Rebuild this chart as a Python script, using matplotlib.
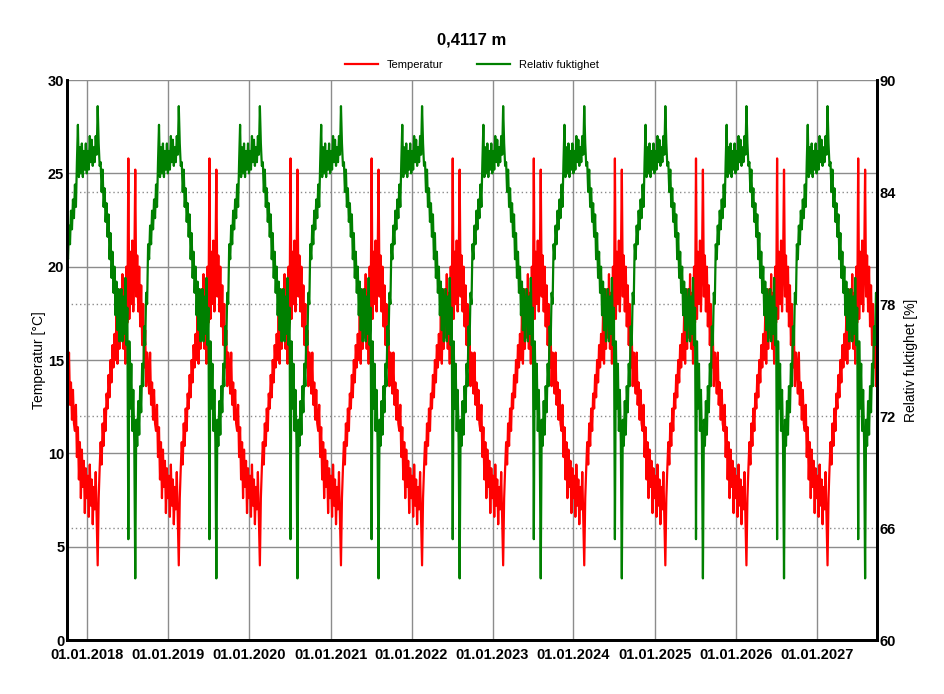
import matplotlib.pyplot as plt
import matplotlib.dates as mdates
import numpy as np
import pandas as pd

# one simulated year (1 Oct -> 30 Sep); the climate year repeats
temp_year = [14.6, 13.2, 15.4, 12.6, 13.8, 11.8, 13.4, 11.6,      # Oct
             11.2, 12.6, 9.8, 11.4, 8.6, 10.6,                    # Nov
             7.6, 10.2, 8.2, 9.6, 6.8, 9.2, 7.6,                  # Dec
             8.8, 6.6, 9.4, 7.2, 8.6, 6.2, 8.2,                   # Jan
             7.0, 9.0, 6.4, 4.0, 7.6, 9.2,                        # Feb
             10.6, 9.4, 11.6, 10.4, 12.4, 11.2, 13.2,             # Mar
             12.4, 14.2, 13.0, 15.0, 13.8, 15.8, 14.6,            # Apr
             16.4, 15.0, 17.4, 14.8, 17.8, 15.6, 18.8,            # May
             16.2, 19.6, 15.6, 18.6, 14.8, 20.0, 17.0,            # Jun
             25.8, 17.2, 20.8, 18.0, 21.4, 17.6, 19.8,            # Jul
             25.2, 18.4, 20.6, 17.6, 20.0, 16.8, 19.0,            # Aug
             15.8, 18.0, 14.6, 16.6, 13.6, 15.4]                  # Sep
rh_year = [81.2, 80.4, 82.2, 81.2, 83.0, 82.0, 83.6, 82.6,
           84.4, 83.2, 85.6, 87.6, 84.8, 86.4,
           85.0, 86.6, 84.8, 86.2, 85.2, 86.6, 85.0,
           86.2, 85.2, 87.0, 85.6, 86.8, 85.4, 86.4,
           85.6, 87.0, 86.0, 88.6, 86.6, 85.4,
           85.6, 84.0, 85.2, 83.2, 84.2, 82.4, 83.4,
           81.6, 82.8, 80.4, 81.8, 79.4, 80.8, 78.6,
           80.0, 77.4, 79.2, 76.6, 78.8, 76.0, 78.0,
           78.8, 76.0, 78.4, 76.4, 79.4, 75.8, 77.8,
           65.4, 76.0, 72.4, 74.8, 71.2, 73.4, 70.6,
           63.3, 71.8, 70.4, 72.8, 71.0, 73.6, 72.2,
           74.8, 73.6, 76.8, 75.8, 78.6, 78.0]
n_years = 10

temp = np.tile(temp_year, n_years)
rh = np.tile(rh_year, n_years)
dates = pd.date_range('2017-10-01', '2027-09-30', periods=len(temp))

plt.rcParams['font.family'] = ['Liberation Sans', 'DejaVu Sans']

fig = plt.figure(figsize=(9.44, 6.94), dpi=100)
ax = fig.add_axes([0.071, 0.0778, 0.858, 0.8069])
ax2 = ax.twinx()

l1, = ax.plot(dates, temp, color='#ff0000', lw=1.6, label='Temperatur')
l2, = ax2.plot(dates, rh, color='#008000', lw=1.6, label='Relativ fuktighet')

ax.set_xlim(dates[0], dates[-1])
ax.set_ylim(0, 30)
ax2.set_ylim(60, 90)
ax.set_yticks(np.arange(0, 31, 5))
ax.set_yticks([6, 12, 18, 24], minor=True)
ax2.set_yticks(np.arange(60, 91, 6))

ax.xaxis.set_major_locator(mdates.YearLocator(month=1, day=1))
ax.xaxis.set_major_formatter(mdates.DateFormatter('%d.%m.%Y'))

ax.set_axisbelow(True)
ax.grid(True, which='major', color='#8c8c8c', lw=1, ls='-')
ax.grid(True, which='minor', axis='y', color='#8c8c8c', lw=1, ls=(0, (1, 2)))

for a in (ax, ax2):
    for s in ('left', 'right', 'bottom'):
        a.spines[s].set_linewidth(2)
    a.spines['top'].set_visible(False)
    a.tick_params(which='both', length=0, labelsize=10.5, pad=2)
    for lab in a.get_xticklabels() + a.get_yticklabels():
        lab.set_fontweight('bold')
ax.tick_params(axis='x', pad=6)

ax.set_ylabel('Temperatur [°C]', fontsize=10, labelpad=1)
ax2.set_ylabel('Relativ fuktighet [%]', fontsize=10, labelpad=6)

fig.text(0.5, 0.942, '0,4117 m', ha='center', va='center', fontsize=12, fontweight='bold')
fig.legend(handles=[l1, l2], loc='center', bbox_to_anchor=(0.5, 0.906), ncol=2,
           frameon=False, fontsize=8, handlelength=3, columnspacing=3)

fig.savefig('out.png', dpi=100)
